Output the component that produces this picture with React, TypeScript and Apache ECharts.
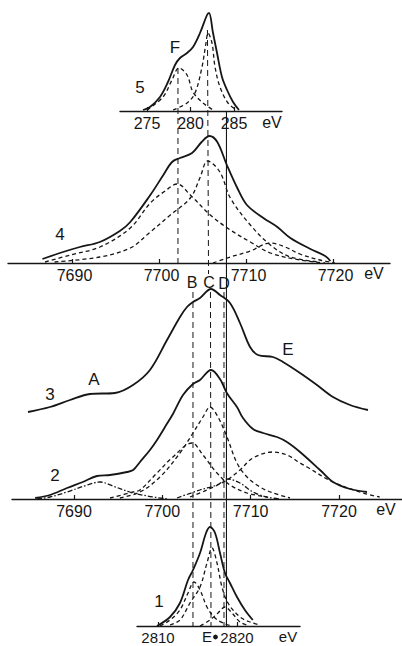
import React, { useEffect, useRef } from "react";
import * as echarts from "echarts";

// ---------- tick labels ----------
const P5_TICKS = [275, 280, 285];
const P4_TICKS = [7690, 7700, 7710, 7720];
const P2_TICKS = [7690, 7700, 7710, 7720];
const P1_TICKS = [2810, 2820];

// ---------- spectrum 5 (eV, intensity) ----------
const P5_TOTAL = [[274.54, 1], [275.34, 4], [276.49, 14], [277.41, 29], [278.22, 46], [278.79, 53], [279.6, 58], [280.29, 64], [281.09, 78], [281.9, 96], [282.13, 98], [282.59, 78], [283.05, 58], [283.62, 34], [284.2, 21], [284.89, 9], [285.57, 1]];
const P5_F = [[275.0, 1], [276.84, 14], [277.87, 31], [278.68, 43], [279.6, 36], [280.29, 19], [281.44, 8], [282.59, 1]];
const P5_NARROW = [[277.99, 1], [279.6, 8], [280.52, 18], [281.32, 44], [281.78, 68], [282.01, 78], [282.47, 68], [282.82, 44], [283.39, 24], [284.31, 8], [285.34, 1]];

// ---------- spectrum 4 ----------
const P4_TOTAL = [[7686.6, 4], [7688.6, 10], [7690.9, 16], [7693.2, 21], [7695.5, 32], [7696.7, 41], [7699.0, 68], [7700.5, 88], [7701.5, 101], [7702.4, 105], [7703.8, 110], [7704.9, 121], [7705.8, 127], [7706.7, 121], [7707.8, 98], [7709.0, 75], [7710.1, 58], [7712.0, 45], [7713.6, 36], [7715.1, 25], [7717.4, 14], [7719.1, 7], [7719.7, 2]];
const P4_BROAD = [[7686.9, 1], [7689.8, 8], [7693.2, 16], [7696.7, 35], [7699.0, 60], [7700.7, 72], [7702.1, 79], [7703.6, 68], [7705.9, 48], [7708.2, 33], [7710.5, 21], [7712.8, 10], [7716.2, 3], [7719.1, 0]];
const P4_CENTER = [[7688.0, 1], [7693.2, 6], [7696.7, 15], [7699.0, 31], [7701.3, 48], [7703.6, 65], [7704.7, 85], [7705.6, 102], [7707.0, 91], [7708.2, 65], [7710.5, 38], [7712.8, 18], [7715.1, 6], [7718.5, 1]];
const P4_RIGHT = [[7706.2, 0], [7708.2, 6], [7710.5, 12], [7712.8, 20], [7714.5, 16], [7716.2, 9], [7718.5, 3], [7720.2, 0]];

// ---------- spectrum 3 ----------
const P3_TOTAL = [[7684.79, 3], [7687.28, 8], [7689.55, 15], [7691.81, 21], [7694.64, 22], [7696.68, 30], [7698.6, 45], [7700.53, 75], [7702.0, 98], [7702.79, 108], [7703.47, 113], [7704.26, 117], [7705.51, 126], [7706.53, 120], [7707.66, 112], [7708.79, 92], [7709.93, 68], [7710.83, 60], [7712.53, 58], [7713.66, 53], [7715.59, 42], [7717.51, 30], [7719.32, 18], [7721.25, 10], [7723.28, 5]];

// ---------- spectrum 2 ----------
const P2_TOTAL = [[7685.6, 1], [7687.28, 4], [7689.21, 11], [7691.0, 17], [7692.6, 23], [7694.08, 24], [7696.0, 27], [7696.7, 29], [7697.47, 37], [7698.6, 49], [7699.4, 59], [7700.3, 72], [7701.2, 85], [7702.34, 104], [7703.47, 115], [7704.26, 119], [7705.51, 129], [7706.53, 120], [7707.3, 106], [7708.45, 92], [7709.13, 81], [7710.26, 70], [7711.4, 66], [7712.98, 62], [7714.11, 57], [7715.59, 47], [7717.85, 29], [7719.32, 17], [7721.25, 10], [7723.17, 7]];
const P2_A = [[7685.81, 0], [7687.28, 2], [7689.21, 7], [7691.5, 14], [7692.94, 17], [7694.4, 13], [7696.3, 7], [7698.3, 3], [7700.53, 0]];
const P2_B = [[7694.08, 1], [7696.68, 7], [7697.47, 9], [7699.4, 26], [7701.2, 42], [7703.36, 56], [7704.6, 44], [7706.19, 26], [7707.66, 14], [7709.59, 6], [7711.85, 2]];
const P2_C = [[7695.2, 1], [7697.47, 7], [7699.74, 22], [7702.0, 46], [7703.47, 66], [7704.6, 82], [7705.4, 92], [7706.3, 82], [7707.32, 62], [7708.45, 36], [7709.59, 22], [7711.06, 12], [7712.53, 6], [7714.45, 1]];
const P2_D = [[7701.66, 1], [7704.26, 9], [7706.19, 14], [7707.43, 20], [7708.79, 16], [7710.26, 7], [7711.85, 2], [7713.3, 0]];
const P2_E = [[7703.13, 2], [7705.06, 9], [7707.32, 19], [7708.79, 29], [7710.26, 41], [7712.53, 47], [7714.11, 44], [7715.59, 36], [7716.38, 32], [7719.32, 17], [7722.72, 6], [7724.6, 2]];

// ---------- spectrum 1 ----------
const P1_TOTAL = [[2809.87, 0], [2811.52, 9], [2812.78, 23], [2813.8, 46], [2814.43, 56], [2815.32, 73], [2816.08, 93], [2816.58, 99], [2817.22, 93], [2817.85, 73], [2818.48, 53], [2819.11, 43], [2820.0, 29], [2821.0, 16], [2822.0, 6]];
const P1_B = [[2810.25, 0], [2811.52, 6], [2812.78, 16], [2813.8, 33], [2814.56, 44], [2815.32, 36], [2816.2, 19], [2817.22, 8], [2818.23, 3], [2819.37, 0]];
const P1_C = [[2811.52, 1], [2812.78, 6], [2814.05, 23], [2815.32, 39], [2816.2, 63], [2816.84, 78], [2817.47, 63], [2818.1, 39], [2818.86, 23], [2820.38, 9], [2821.65, 4], [2822.9, 1]];
const P1_D = [[2815.32, 0], [2816.58, 6], [2817.59, 13], [2818.48, 19], [2819.37, 13], [2820.38, 4], [2821.27, 1]];

// ---------- reference lines (energies on the 7690–7720 eV scale) ----------
const REF_ENERGIES = [
  [7701.77, 7701.77], // F
  [7705.11, 7705.23], // C (upper)
  [7705.45, 7705.51], // C (lower)
  [7703.47, 7703.47], // B
  [7706.98, 7706.98], // D
  [7707.26, 7707.26], // solid
];
const REF_SPAN = [[68, 263], [30, 274], [292, 626], [292, 626], [292, 626], [112, 626]];
const REF_SOLID = [false, false, false, false, false, true];

const INK = "#161616";
const FONT = "'Liberation Sans', Arial, sans-serif";

function xAx(grid: number, min: number, max: number, ticks: number[] | null, size = 16, shift = 0) {
  const show = ticks !== null;
  return {
    type: "value",
    gridIndex: grid,
    min,
    max,
    show,
    position: "bottom",
    axisLine: { show, onZero: false, lineStyle: { color: INK, width: 1.4 } },
    axisTick: { show, inside: true, length: 4, customValues: ticks || [], lineStyle: { color: INK, width: 1.2 } },
    axisLabel: {
      show,
      customValues: ticks || [],
      margin: 4,
      color: INK,
      fontSize: size,
      fontFamily: FONT,
      padding: [0, 0, 0, shift],
      formatter: (v: number) => String(v),
    },
    splitLine: { show: false },
  };
}
function yAx(grid: number, max: number, inverse = false) {
  return { type: "value", gridIndex: grid, min: 0, max, show: false, inverse, splitLine: { show: false } };
}
function ln(idx: number, data: number[][], kind: "solid" | "dash" | "dashdot") {
  const type = kind === "solid" ? "solid" : kind === "dash" ? [4, 3] : [5, 2, 1.5, 2];
  return {
    type: "line",
    xAxisIndex: idx,
    yAxisIndex: idx,
    data,
    symbol: "none",
    showSymbol: false,
    smooth: 0.35,
    silent: true,
    lineStyle: { color: INK, width: kind === "solid" ? 1.8 : 1.3, type },
    z: kind === "solid" ? 3 : 2,
  };
}
function txt(text: string, x: number, y: number, size = 17) {
  return {
    type: "text",
    x,
    y,
    silent: true,
    style: { text, fill: INK, fontSize: size, fontFamily: FONT, align: "center", verticalAlign: "middle" },
  };
}

export default function App() {
  const ref = useRef<HTMLDivElement>(null);
  useEffect(() => {
    document.body.style.margin = "0";
    if (!ref.current) return;
    const chart = echarts.init(ref.current, null, { renderer: "svg" });
    const refSeries = REF_ENERGIES.map((e, i) => ({
      type: "line",
      xAxisIndex: 5,
      yAxisIndex: 5,
      data: [[e[0], REF_SPAN[i][0]], [e[1], REF_SPAN[i][1]]],
      symbol: "none",
      silent: true,
      lineStyle: { color: INK, width: REF_SOLID[i] ? 1.1 : 1, type: REF_SOLID[i] ? "solid" : [6, 4] },
      z: 1,
    }));
    chart.setOption({
      animation: false,
      backgroundColor: "#fff",
      grid: [
        { left: 120, top: 0, width: 162, height: 111 },
        { left: 8, top: 123, width: 382, height: 140 },
        { left: 12, top: 280, width: 390, height: 135 },
        { left: 12, top: 359, width: 390, height: 140 },
        { left: 137, top: 516, width: 163, height: 110 },
        { left: 12, top: 0, width: 390, height: 646 },
      ],
      xAxis: [
        xAx(0, 271.897, 290.517, P5_TICKS),
        xAx(1, 7682.644, 7726.552, P4_TICKS, 16, 5),
        xAx(2, 7682.981, 7727.133, null),
        xAx(3, 7682.981, 7727.133, P2_TICKS),
        xAx(4, 2807.342, 2827.975, P1_TICKS, 15),
        xAx(5, 7682.981, 7727.133, null),
      ],
      yAxis: [yAx(0, 111), yAx(1, 140), yAx(2, 135), yAx(3, 140), yAx(4, 110), yAx(5, 646, true)],
      series: [
        ln(0, P5_TOTAL, "solid"),
        ln(0, P5_F, "dash"),
        ln(0, P5_NARROW, "dash"),
        ln(1, P4_TOTAL, "solid"),
        ln(1, P4_BROAD, "dash"),
        ln(1, P4_CENTER, "dash"),
        ln(1, P4_RIGHT, "dash"),
        ln(2, P3_TOTAL, "solid"),
        ln(3, P2_TOTAL, "solid"),
        ln(3, P2_A, "dashdot"),
        ln(3, P2_B, "dash"),
        ln(3, P2_C, "dash"),
        ln(3, P2_D, "dashdot"),
        ln(3, P2_E, "dash"),
        ln(4, P1_TOTAL, "solid"),
        ln(4, P1_B, "dash"),
        ln(4, P1_C, "dash"),
        ln(4, P1_D, "dash"),
        ...refSeries,
      ],
      graphic: [
        txt("5", 140, 87),
        txt("F", 175, 47),
        txt("eV", 272, 122, 16),
        txt("4", 60, 234),
        txt("eV", 374, 273, 16),
        txt("B", 192, 282, 16),
        txt("C", 209, 282, 16),
        txt("D", 224, 283, 16),
        txt("3", 50, 394),
        txt("A", 94, 379),
        txt("E", 288, 349),
        txt("2", 55, 475),
        txt("eV", 386, 509, 16),
        txt("1", 159, 601),
        txt("E", 207, 636, 15),
        { type: "circle", silent: true, shape: { cx: 215.5, cy: 637, r: 2.4 }, style: { fill: INK } },
        txt("eV", 288, 636, 15),
      ],
    });
    return () => chart.dispose();
  }, []);
  return <div ref={ref} style={{ width: 402, height: 646 }} />;
}
